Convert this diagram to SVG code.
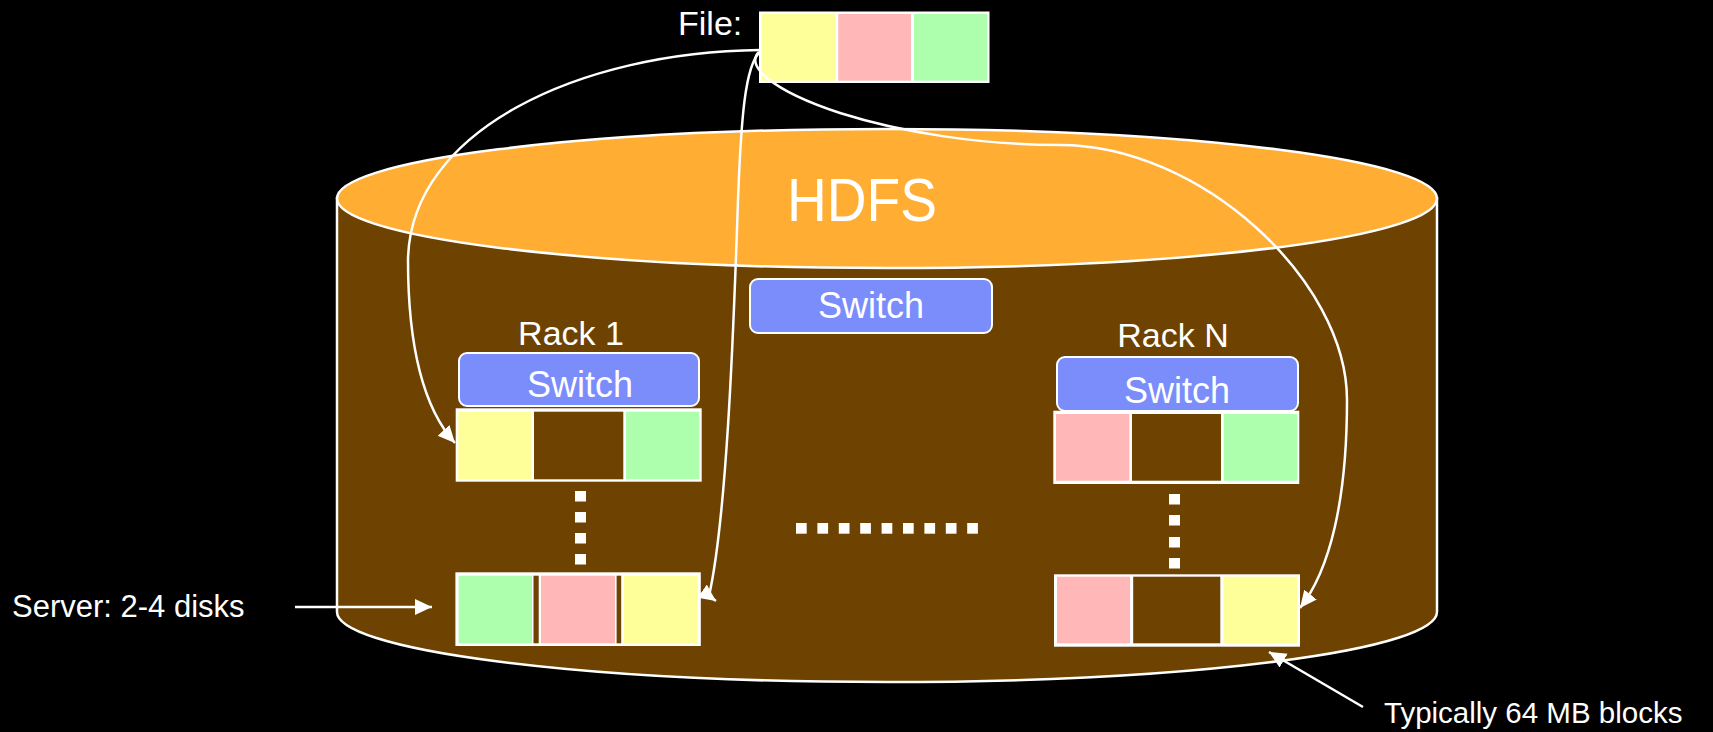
<svg xmlns="http://www.w3.org/2000/svg" width="1713" height="732" viewBox="0 0 1713 732">
<style>
text{font-family:"Liberation Sans",Arial,sans-serif;fill:#ffffff}
.sw{fill:#7b8cfb;stroke:#ffffff;stroke-width:2}
.frame{fill:#ffffff}
.y{fill:#ffff99}.p{fill:#ffb7b7}.g{fill:#adffad}.b{fill:#6e4200}
.dot{fill:#ffffff}
.con{fill:none;stroke:#ffffff;stroke-width:2.5}
</style>
<defs>
<marker id="ah" markerUnits="userSpaceOnUse" markerWidth="20" markerHeight="20" refX="17" refY="8" orient="auto">
<path d="M0,0 L17,8 L0,16 Z" fill="#ffffff"/>
</marker>
</defs>
<rect x="0" y="0" width="1713" height="732" fill="#000000"/>
<g id="hdfs">
<path d="M337,198 L337,612 A550,70 0 0 0 1437,612 L1437,198 Z" fill="#6e4200" stroke="#ffffff" stroke-width="2.5"/>
<ellipse cx="887" cy="198.5" rx="550" ry="69.5" fill="#ffad33" stroke="#ffffff" stroke-width="2.5"/>
<text x="862" y="221" font-size="62" text-anchor="middle" textLength="150" lengthAdjust="spacingAndGlyphs">HDFS</text>
</g>
<g id="file">
<text x="678" y="35" font-size="34">File:</text>
<rect class="frame" x="759" y="11.5" width="230.5" height="71.5"/>
<rect class="y" x="761.7" y="14" width="73.5" height="66.7"/>
<rect class="p" x="838.3" y="14" width="72.7" height="66.7"/>
<rect class="g" x="914" y="14" width="73.3" height="66.7"/>
</g>
<g id="core-switch">
<rect class="sw" x="750" y="279" width="242" height="54" rx="8"/>
<text x="871" y="318" font-size="36" text-anchor="middle">Switch</text>
</g>
<g id="rack1">
<text x="571" y="345" font-size="34" text-anchor="middle">Rack 1</text>
<rect class="sw" x="459" y="353" width="240" height="53" rx="8"/>
<text x="580" y="397" font-size="36" text-anchor="middle">Switch</text>
<rect class="frame" x="455.7" y="408.3" width="246" height="73.4"/>
<rect class="y" x="458.3" y="411.7" width="72.7" height="67.6"/>
<rect class="b" x="534" y="411.7" width="89.3" height="67.6"/>
<rect class="g" x="626" y="411.7" width="73.3" height="67.6"/>
<rect class="dot" x="575" y="491" width="11" height="10.5"/>
<rect class="dot" x="575" y="512" width="11" height="10.5"/>
<rect class="dot" x="575" y="533" width="11" height="10.5"/>
<rect class="dot" x="575" y="554" width="11" height="10.5"/>
<rect class="frame" x="455.4" y="572.3" width="245.4" height="73.7"/>
<rect class="g" x="458.7" y="575.7" width="73.3" height="67.6"/>
<rect class="b" x="533.5" y="575.7" width="5.2" height="67.6"/>
<rect class="p" x="541" y="575.7" width="74" height="67.6"/>
<rect class="b" x="616.6" y="575.7" width="4.6" height="67.6"/>
<rect class="y" x="623.9" y="575.7" width="73.8" height="67.6"/>
</g>
<g id="rackN">
<text x="1173" y="347" font-size="34" text-anchor="middle">Rack N</text>
<rect class="sw" x="1057" y="357" width="241" height="54" rx="8"/>
<text x="1177" y="403" font-size="36" text-anchor="middle">Switch</text>
<rect class="frame" x="1053.3" y="410.7" width="246" height="73.3"/>
<rect class="p" x="1056" y="414" width="73.3" height="66.7"/>
<rect class="b" x="1132" y="414" width="89" height="66.7"/>
<rect class="g" x="1223.7" y="414" width="73.6" height="66.7"/>
<rect class="dot" x="1169" y="494" width="11" height="10.5"/>
<rect class="dot" x="1169" y="515" width="11" height="10.5"/>
<rect class="dot" x="1169" y="537" width="11" height="10.5"/>
<rect class="dot" x="1169" y="558" width="11" height="10.5"/>
<rect class="frame" x="1054" y="574.3" width="246" height="72.4"/>
<rect class="p" x="1057" y="576.7" width="73" height="66.6"/>
<rect class="b" x="1133.2" y="576.7" width="87.1" height="66.6"/>
<rect class="y" x="1223.4" y="576.7" width="73.6" height="66.6"/>
</g>
<g id="rack-dots">
<rect class="dot" x="796" y="523" width="10.7" height="10.7"/>
<rect class="dot" x="817.4" y="523" width="10.7" height="10.7"/>
<rect class="dot" x="838.8" y="523" width="10.7" height="10.7"/>
<rect class="dot" x="860.2" y="523" width="10.7" height="10.7"/>
<rect class="dot" x="881.6" y="523" width="10.7" height="10.7"/>
<rect class="dot" x="903" y="523" width="10.7" height="10.7"/>
<rect class="dot" x="924.4" y="523" width="10.7" height="10.7"/>
<rect class="dot" x="945.8" y="523" width="10.7" height="10.7"/>
<rect class="dot" x="967.2" y="523" width="10.7" height="10.7"/>
</g>
<g id="server-label">
<text x="12" y="617" font-size="31">Server: 2-4 disks</text>
</g>
<g id="block-label">
<text x="1384" y="723" font-size="29.5">Typically 64 MB blocks</text>
</g>
<g id="connectors">
<path class="con" d="M760,50 C580,52 410,130 408,260 C408,350 425,410 455,443" marker-end="url(#ah)"/>
<path class="con" d="M760,52 C745,65 741,120 738,200 C733,350 726,520 709,596 L716,601" marker-end="url(#ah)"/>
<path class="con" d="M759,52 C745,65 770,90 840,113 C900,132 980,145 1060,145 C1200,145 1347,280 1347,400 C1347,500 1330,570 1300,608" marker-end="url(#ah)"/>
<path class="con" d="M295,607 L432,607" marker-end="url(#ah)"/>
<path class="con" d="M1363,707 L1269,652" marker-end="url(#ah)"/>
</g>
</svg>
